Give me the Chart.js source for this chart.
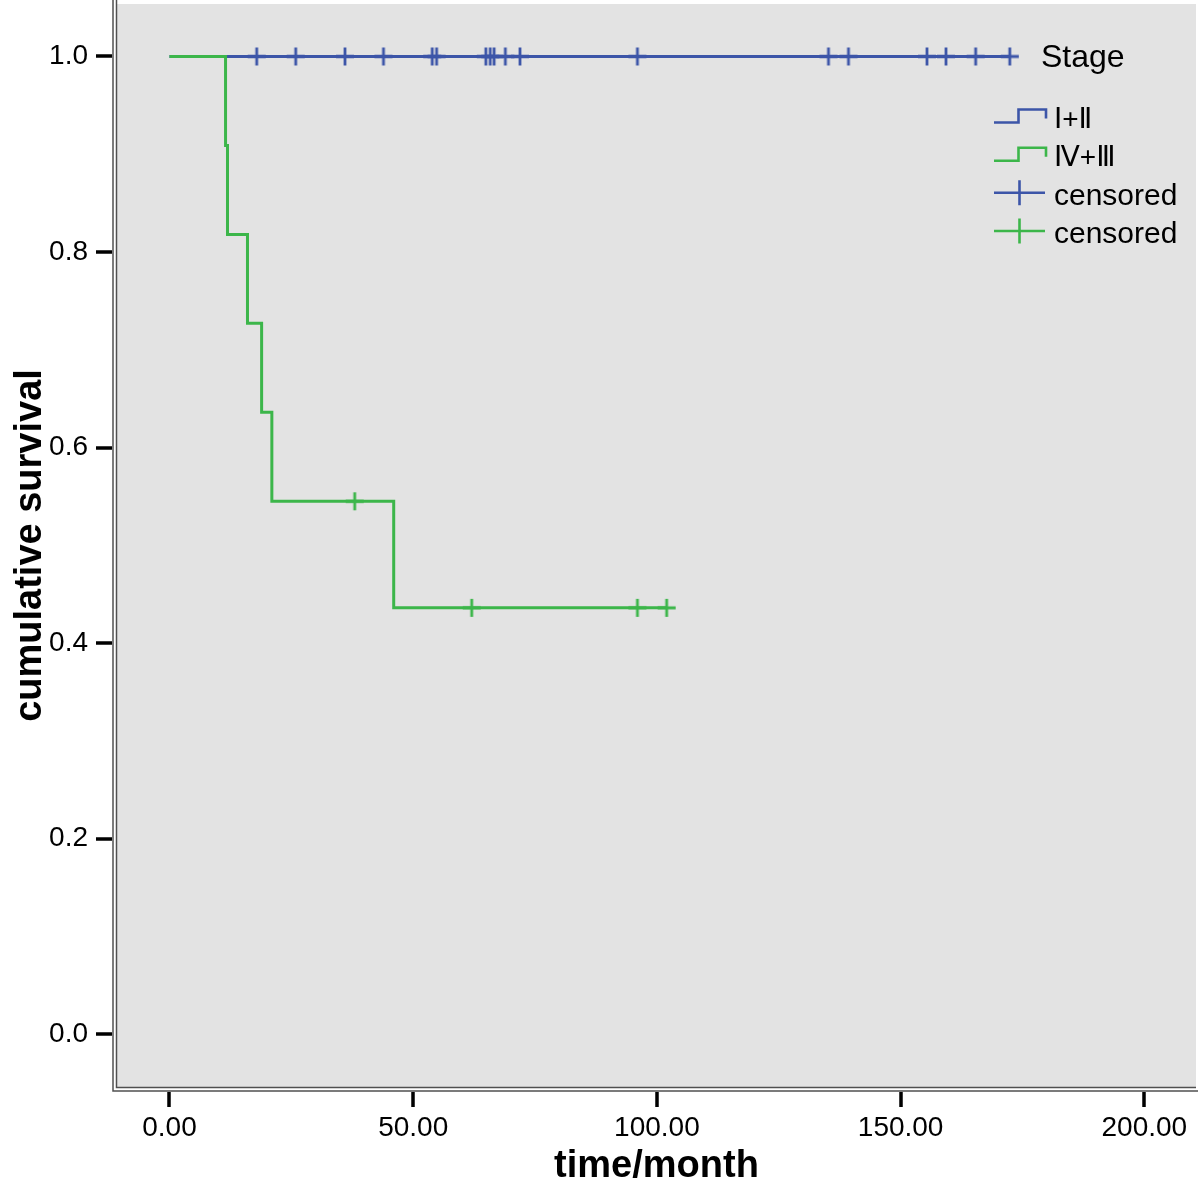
<!DOCTYPE html>
<html>
<head>
<meta charset="utf-8">
<script src="https://cdn.jsdelivr.net/npm/chart.js@4.4.1/dist/chart.umd.min.js"></script>
<style>
  html, body { margin: 0; padding: 0; background: #fff; }
  #wrap { width: 1200px; height: 1189px; }
</style>
</head>
<body>
<div id="wrap"><canvas id="km" width="1200" height="1189"></canvas></div>
<script>
// Kaplan-Meier curves
const stage12Times = [0, 172.4];
const stage12Surv = [1.0, 1.0];
const stage12CensorTimes = [17.9, 25.9, 36.0, 43.9, 53.9, 54.8, 64.9, 65.8, 66.6, 68.9, 71.9,
                            96.0, 135.2, 139.3, 155.4, 159.3, 165.4, 172.4];
const stage12CensorSurv = [1, 1, 1, 1, 1, 1, 1, 1, 1, 1, 1, 1, 1, 1, 1, 1, 1, 1];

const stage43Times = [0, 11.5, 11.9, 16.0, 18.9, 21.0, 46.0, 102.0];
const stage43Surv = [1.0, 0.909, 0.818, 0.727, 0.636, 0.545, 0.436, 0.436];
const stage43CensorTimes = [38.0, 62.0, 96.0, 102.0];
const stage43CensorSurv = [0.545, 0.436, 0.436, 0.436];

const xTickValues = [0, 50, 100, 150, 200];
const yTickValues = [0, 0.2, 0.4, 0.6, 0.8, 1.0];

const legendTitle = 'Stage';
const legendLabels = ['Ⅰ+Ⅱ', 'Ⅳ+Ⅲ', 'censored', 'censored'];

const BLUE = '#3c55a8';
const GREEN = '#3cb64a';
const FONT = '"Liberation Sans", Arial, "DejaVu Sans", sans-serif';

const toPoints = (xs, ys) => xs.map((x, i) => ({x: x, y: ys[i]}));

// censor mark as a small image so it does not widen the layout
function makeCross(color) {
    const c = document.createElement('canvas');
    c.width = 22;
    c.height = 22;
    const g = c.getContext('2d');
    g.strokeStyle = color;
    g.lineWidth = 2.8;
    g.beginPath();
    g.moveTo(2, 11);
    g.lineTo(20, 11);
    g.moveTo(11, 2);
    g.lineTo(11, 20);
    g.stroke();
    return c;
}

function noPad(s) {
    s.paddingTop = 0;
    s.paddingBottom = 0;
    s.paddingLeft = 0;
    s.paddingRight = 0;
}

const backdrop = {
    id: 'backdrop',
    beforeDraw(chart) {
        const ctx = chart.ctx;
        const a = chart.chartArea;
        ctx.save();
        ctx.fillStyle = '#e3e3e3';
        ctx.fillRect(a.left, a.top, a.right - a.left, a.bottom - a.top);
        // double frame on left and bottom
        ctx.strokeStyle = '#505050';
        ctx.lineWidth = 1.5;
        ctx.beginPath();
        ctx.moveTo(a.left - 0.5, 0);
        ctx.lineTo(a.left - 0.5, a.bottom + 0.5);
        ctx.lineTo(a.right, a.bottom + 0.5);
        ctx.moveTo(a.left - 4, 0);
        ctx.lineTo(a.left - 4, a.bottom + 4);
        ctx.lineTo(a.right + 2, a.bottom + 4);
        ctx.stroke();
        ctx.restore();
    },
    afterDraw(chart) {
        const ctx = chart.ctx;
        const a = chart.chartArea;
        const xs = chart.scales.x;
        const ys = chart.scales.y;
        ctx.save();
        // tick marks
        ctx.strokeStyle = '#000';
        ctx.lineWidth = 3.5;
        ctx.beginPath();
        yTickValues.forEach(v => {
            const y = Math.round(ys.getPixelForValue(v));
            ctx.moveTo(a.left - 21, y);
            ctx.lineTo(a.left - 5, y);
        });
        xTickValues.forEach(v => {
            const x = Math.round(xs.getPixelForValue(v));
            ctx.moveTo(x, a.bottom + 5);
            ctx.lineTo(x, a.bottom + 20);
        });
        ctx.stroke();

        // legend
        ctx.fillStyle = '#000';
        ctx.textAlign = 'left';
        ctx.textBaseline = 'alphabetic';
        ctx.font = '32px ' + FONT;
        ctx.fillText(legendTitle, 1041, 67);

        const rows = [116, 154.3, 192.7, 231];
        const colors = [BLUE, GREEN, BLUE, GREEN];
        ctx.lineWidth = 2.6;
        rows.forEach((cy, i) => {
            ctx.strokeStyle = colors[i];
            ctx.beginPath();
            if (i < 2) {
                ctx.moveTo(994, cy + 6.5);
                ctx.lineTo(1018.5, cy + 6.5);
                ctx.lineTo(1018.5, cy - 6.5);
                ctx.lineTo(1046, cy - 6.5);
                ctx.lineTo(1046, cy + 2.5);
            } else {
                ctx.moveTo(994, cy);
                ctx.lineTo(1045, cy);
                ctx.moveTo(1019.5, cy - 12.5);
                ctx.lineTo(1019.5, cy + 12.5);
            }
            ctx.stroke();
            ctx.font = (i < 2 ? '28px ' : '30px ') + FONT;
            ctx.fillText(legendLabels[i], 1054, cy + 12);
        });
        ctx.restore();
    }
};

const ctx = document.getElementById('km').getContext('2d');
const chart = new Chart(ctx, {
    type: 'scatter',
    data: {
        datasets: [
            {
                label: legendLabels[0],
                type: 'line',
                data: toPoints(stage12Times, stage12Surv),
                borderColor: BLUE,
                borderWidth: 3,
                stepped: true,
                pointRadius: 0,
                fill: false,
                order: 4
            },
            {
                label: legendLabels[1],
                type: 'line',
                data: toPoints(stage43Times, stage43Surv),
                borderColor: GREEN,
                borderWidth: 3,
                stepped: true,
                pointRadius: 0,
                fill: false,
                order: 3
            },
            {
                label: 'censored',
                data: toPoints(stage12CensorTimes, stage12CensorSurv),
                pointStyle: makeCross(BLUE),
                pointRadius: 1,
                pointBorderWidth: 0,
                order: 2
            },
            {
                label: 'censored',
                data: toPoints(stage43CensorTimes, stage43CensorSurv),
                pointStyle: makeCross(GREEN),
                pointRadius: 1,
                pointBorderWidth: 0,
                order: 1
            }
        ]
    },
    options: {
        responsive: false,
        animation: false,
        devicePixelRatio: 1,
        layout: {padding: {left: 0, top: 3, right: 4, bottom: 0}},
        plugins: {
            legend: {display: false},
            tooltip: {enabled: false}
        },
        scales: {
            x: {
                type: 'linear',
                min: -10.77,
                max: 210.6,
                afterFit: s => { s.height = 102; noPad(s); },
                afterBuildTicks: s => { s.ticks = xTickValues.map(v => ({value: v})); },
                grid: {display: false, drawTicks: false},
                border: {display: false},
                ticks: {
                    padding: 24,
                    color: '#000',
                    font: {family: FONT, size: 28},
                    maxRotation: 0,
                    callback: v => Number(v).toFixed(2)
                },
                title: {
                    display: true,
                    text: 'time/month',
                    color: '#000',
                    font: {family: FONT, size: 38, weight: 'bold'},
                    padding: {top: 0, bottom: 0}
                }
            },
            y: {
                type: 'linear',
                min: -0.0542,
                max: 1.0537,
                afterFit: s => { s.width = 117; noPad(s); },
                afterBuildTicks: s => { s.ticks = yTickValues.map(v => ({value: v})); },
                grid: {display: false, drawTicks: false},
                border: {display: false},
                ticks: {
                    padding: 29,
                    color: '#000',
                    font: {family: FONT, size: 28},
                    callback: v => Number(v).toFixed(1)
                },
                title: {
                    display: true,
                    text: 'cumulative survival',
                    color: '#000',
                    font: {family: FONT, size: 38, weight: 'bold'},
                    padding: {top: 8, bottom: 0}
                }
            }
        }
    },
    plugins: [backdrop]
});
</script>
</body>
</html>
